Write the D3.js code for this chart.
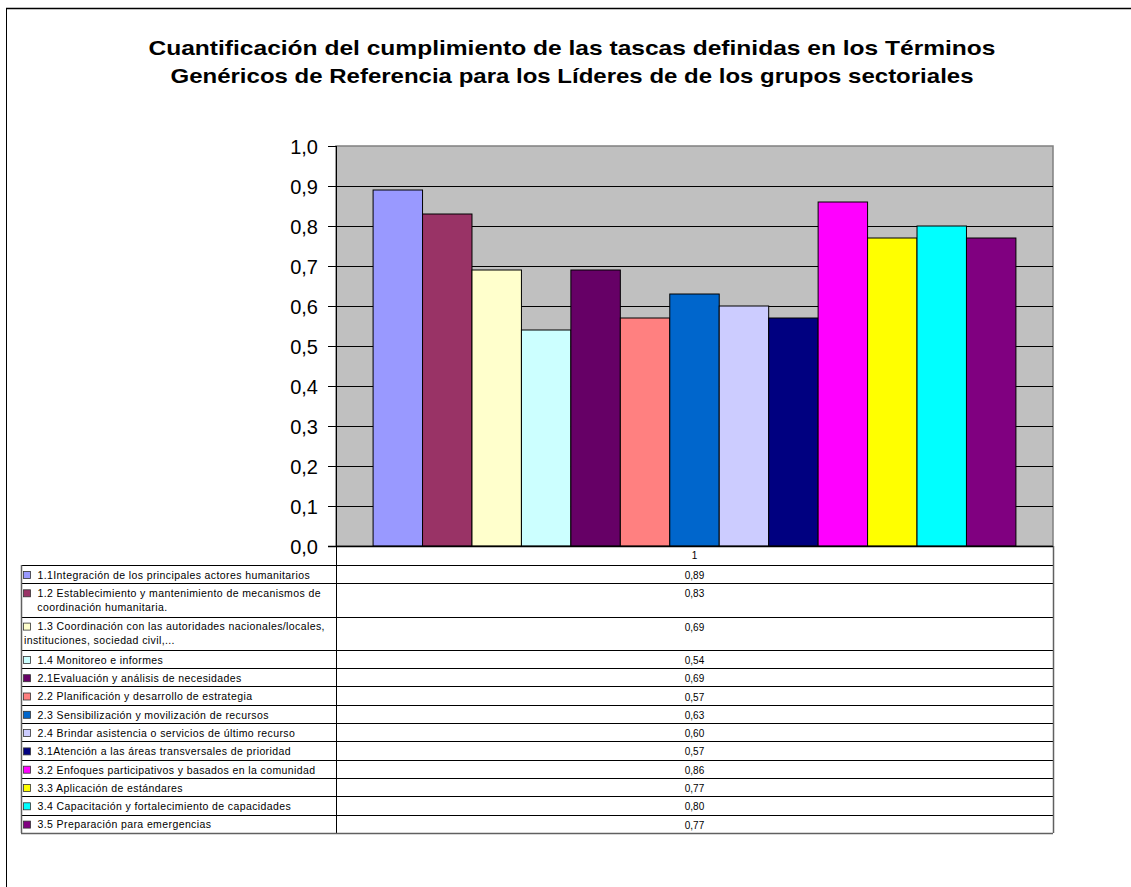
<!DOCTYPE html>
<html>
<meta charset="utf-8">
<style>
	body { margin:0; padding:0; background:#fff; }
	svg { display:block; }
	text { font-family: Arial, "Liberation Sans", sans-serif; fill:#000; }
</style>
<body>
<svg id="chart" width="1131" height="887"></svg>
<script src="https://cdn.jsdelivr.net/npm/d3@7/dist/d3.min.js"></script>
<script>
// data
var titleLines = [
	"Cuantificación del cumplimiento de las tascas definidas en los Términos",
	"Genéricos de Referencia para los Líderes de de los grupos sectoriales"
];
var category = "1";
var seriesNames = [
	"1.1Integración de los principales actores humanitarios",
	"1.2 Establecimiento y mantenimiento de mecanismos de\n    coordinación humanitaria.",
	"1.3 Coordinación con las autoridades nacionales/locales,\ninstituciones, sociedad civil,...",
	"1.4 Monitoreo e informes",
	"2.1Evaluación y análisis de necesidades",
	"2.2 Planificación y desarrollo de estrategia",
	"2.3 Sensibilización y movilización de recursos",
	"2.4 Brindar asistencia o servicios de último recurso",
	"3.1Atención a las áreas transversales de prioridad",
	"3.2 Enfoques participativos y basados en la comunidad",
	"3.3 Aplicación de estándares",
	"3.4 Capacitación y fortalecimiento de capacidades",
	"3.5 Preparación para emergencias"
];
var seriesValues = [0.89, 0.83, 0.69, 0.54, 0.69, 0.57, 0.63, 0.60, 0.57, 0.86, 0.77, 0.80, 0.77];
var seriesColors = ["#9999FF","#993366","#FFFFCC","#CCFFFF","#660066","#FF8080","#0066CC",
	"#CCCCFF","#000080","#FF00FF","#FFFF00","#00FFFF","#800080"];
var yTicks = [0,0.1,0.2,0.3,0.4,0.5,0.6,0.7,0.8,0.9,1.0];

var svg = d3.select("#chart");
var es = d3.formatLocale({decimal: ",", thousands: ".", grouping: [3], currency: ["", "€"]});
var fmt1 = es.format(".1f"), fmt2 = es.format(".2f");

// outer frame
svg.append("line").attr("x1", 6).attr("x2", 1131).attr("y1", 8.5).attr("y2", 8.5)
	.attr("stroke", "#000").attr("stroke-width", 1.5);
svg.append("line").attr("x1", 6.5).attr("x2", 6.5).attr("y1", 8).attr("y2", 887)
	.attr("stroke", "#000").attr("stroke-width", 1);

// title (the original is drawn wider than Arial's natural width)
var titleWidths = [847, 803];
svg.append("g").selectAll("text").data(titleLines).enter().append("text")
	.attr("x", 572).attr("y", function(d, i) { return 55 + i * 28; })
	.attr("text-anchor", "middle")
	.attr("textLength", function(d, i) { return titleWidths[i]; })
	.attr("lengthAdjust", "spacingAndGlyphs")
	.style("font-size", "21px").style("font-weight", "bold")
	.text(function(d) { return d; });

var plot = {left: 336, right: 1053, top: 146, bottom: 546};

var x = d3.scaleBand().domain(seriesNames)
	.range([plot.left, plot.right]).paddingInner(0).paddingOuter(0.75);
var y = d3.scaleLinear().domain([0, 1]).range([plot.bottom, plot.top]);

// plot background
svg.append("rect").attr("x", plot.left).attr("y", plot.top)
	.attr("width", plot.right - plot.left).attr("height", plot.bottom - plot.top)
	.attr("fill", "#C0C0C0").attr("stroke", "#808080").attr("stroke-width", 1.5);

// gridlines
svg.append("g").selectAll("line").data(yTicks.filter(function(t) { return t > 0 && t < 1; }))
	.enter().append("line")
	.attr("x1", plot.left).attr("x2", plot.right)
	.attr("y1", function(d) { return Math.round(y(d)) + 0.5; })
	.attr("y2", function(d) { return Math.round(y(d)) + 0.5; })
	.attr("stroke", "#000").attr("stroke-width", 1);

// bars
svg.append("g").selectAll("rect").data(seriesValues).enter().append("rect")
	.attr("x", function(d, i) { return x(seriesNames[i]); })
	.attr("y", function(d) { return y(d); })
	.attr("width", x.bandwidth())
	.attr("height", function(d) { return y(0) - y(d); })
	.attr("fill", function(d, i) { return seriesColors[i]; })
	.attr("stroke", "#000").attr("stroke-width", 1);

// y axis
var yAxis = svg.append("g").attr("transform", "translate(" + plot.left + ",0)")
	.call(d3.axisLeft(y).tickValues(yTicks).tickFormat(fmt1).tickSize(8).tickPadding(10));
yAxis.select(".domain").remove();
yAxis.selectAll("line").attr("stroke", "#000");
yAxis.selectAll("text").style("font-size", "20px").style("font-family", "Arial, 'Liberation Sans', sans-serif")
	.attr("dy", "0.36em");

// data table
var lineH = 13.5, rowH = 18.3, extraH = 15;
var tableLeft = 21, tableRight = plot.right, headerBottom = 565;
var tbl = svg.append("g");

// header cell with category
tbl.append("text").attr("x", (plot.left + plot.right) / 2).attr("y", 559)
	.attr("text-anchor", "middle").style("font-size", "10px").text(category);

var rows = [];
var yy = headerBottom;
seriesNames.forEach(function(name, i) {
	var lines = name.split("\n");
	var h = rowH + (lines.length - 1) * extraH;
	rows.push({name: name, lines: lines, value: seriesValues[i], color: seriesColors[i], top: yy, h: h});
	yy += h;
});
var tableBottom = yy;

// horizontal rules
tbl.selectAll("line.hr").data(rows).enter().append("line")
	.attr("class", "hr")
	.attr("x1", tableLeft).attr("x2", tableRight)
	.attr("y1", function(d) { return Math.round(d.top) + 0.5; })
	.attr("y2", function(d) { return Math.round(d.top) + 0.5; })
	.attr("stroke", "#000").attr("stroke-width", 1);
tbl.append("line").attr("x1", tableLeft).attr("x2", tableRight)
	.attr("y1", Math.round(tableBottom) + 0.5).attr("y2", Math.round(tableBottom) + 0.5)
	.attr("stroke", "#606060").attr("stroke-width", 1.5);
// vertical rules
tbl.append("line").attr("x1", tableLeft + 0.5).attr("x2", tableLeft + 0.5)
	.attr("y1", headerBottom).attr("y2", tableBottom).attr("stroke", "#606060").attr("stroke-width", 1.5);
tbl.append("line").attr("x1", plot.left + 0.5).attr("x2", plot.left + 0.5)
	.attr("y1", plot.top).attr("y2", tableBottom).attr("stroke", "#000").attr("stroke-width", 1);
tbl.append("line").attr("x1", tableRight + 0.5).attr("x2", tableRight + 0.5)
	.attr("y1", plot.bottom).attr("y2", tableBottom).attr("stroke", "#606060").attr("stroke-width", 1.5);
// x axis line
tbl.append("line").attr("x1", plot.left - 8).attr("x2", plot.right)
	.attr("y1", plot.bottom + 0.5).attr("y2", plot.bottom + 0.5).attr("stroke", "#000").attr("stroke-width", 1.5);

var row = tbl.selectAll("g.row").data(rows).enter().append("g").attr("class", "row");
row.append("rect")
	.attr("x", 23.5).attr("y", function(d) { return d.top + 6.5; })
	.attr("width", 7).attr("height", 7)
	.attr("fill", function(d) { return d.color; })
	.attr("stroke", "#333").attr("stroke-width", 0.8);
row.each(function(d) {
	d3.select(this).selectAll("text.lbl").data(d.lines).enter().append("text")
		.attr("class", "lbl")
		.attr("x", function(l, j) { return j === 0 ? 37.5 : 24; })
		.attr("y", function(l, j) { return d.top + 13.8 + j * lineH; })
		.style("font-size", "10.5px")
		.style("letter-spacing", "0.4px")
		.attr("xml:space", "preserve")
		.style("white-space", "pre")
		.text(function(l) { return l; });
});
row.append("text")
	.attr("x", (plot.left + plot.right) / 2)
	.attr("y", function(d) { return d.top + 14; })
	.attr("text-anchor", "middle").style("font-size", "10px")
	.text(function(d) { return fmt2(d.value); });
</script>
</body>
</html>
